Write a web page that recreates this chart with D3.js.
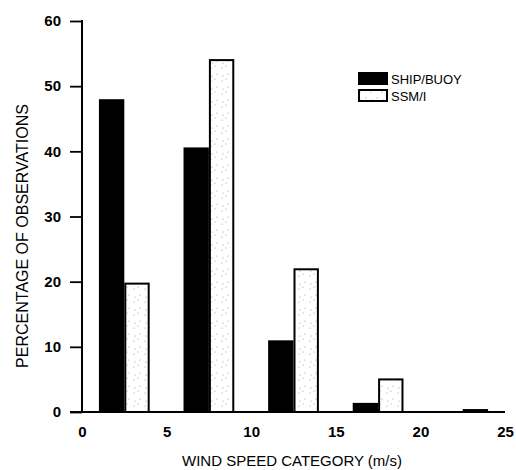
<!DOCTYPE html>
<html>
<head>
<meta charset="utf-8">
<script src="https://cdn.jsdelivr.net/npm/d3@7/dist/d3.min.js"></script>
<style>
  body { margin: 0; background: #fff; }
  svg { display: block; }
  text { font-family: Arial, "Liberation Sans", Helvetica, sans-serif; fill: #000; }
</style>
</head>
<body>
<svg id="chart"></svg>
<script>
// wind speed bins (m/s), bars sit in the middle of each bin
var binCenters = [2.5, 7.5, 12.5, 17.5, 22.5]
var shipBuoy = [48, 40.6, 11, 1.4, 0.1]
var ssmi = [19.7, 54, 21.9, 5, 0.3]
var seriesNames = ["SHIP/BUOY", "SSM/I"]
var xTicks = [0, 5, 10, 15, 20, 25]
var yTicks = [0, 10, 20, 30, 40, 50, 60]

var width = 516, height = 470
var barW = 1.5

var svg = d3.select("#chart")
    .attr("width", width)
    .attr("height", height)

var x = d3.scaleLinear().domain([0, 25]).range([82, 505])
var y = d3.scaleLinear().domain([0, 60]).range([412, 21])

// speckled fill for the SSM/I bars
var defs = svg.append("defs")
var pat = defs.append("pattern")
    .attr("id", "speckle")
    .attr("patternUnits", "userSpaceOnUse")
    .attr("width", 11).attr("height", 13)
pat.append("rect").attr("width", 11).attr("height", 13).attr("fill", "#fff")
pat.selectAll("circle")
    .data([[2, 3], [8, 9], [6, 1], [3, 11]])
    .enter().append("circle")
    .attr("cx", d => d[0]).attr("cy", d => d[1])
    .attr("r", 0.6).attr("fill", "#999")

var rows = binCenters.map((c, i) => ({ c: c, ship: shipBuoy[i], ssm: ssmi[i] }))

// SHIP/BUOY bars, solid black, left half of the pair
svg.selectAll("rect.ship")
    .data(rows)
    .enter().append("rect")
    .attr("class", "ship")
    .attr("x", d => x(d.c - barW))
    .attr("width", d => x(d.c) - x(d.c - barW))
    .attr("y", d => y(d.ship))
    .attr("height", d => y(0) - y(d.ship))
    .attr("fill", "#000")

// SSM/I bars, outlined, right half
svg.selectAll("rect.ssm")
    .data(rows)
    .enter().append("rect")
    .attr("class", "ssm")
    .attr("x", d => x(d.c) + 1)
    .attr("width", d => x(d.c + barW) - x(d.c) - 2)
    .attr("y", d => y(d.ssm))
    .attr("height", d => y(0) - y(d.ssm))
    .attr("fill", "url(#speckle)")
    .attr("stroke", "#000")
    .attr("stroke-width", 2)

// axes
var yAxis = d3.axisLeft(y).tickValues(yTicks).tickSize(12).tickPadding(9).tickFormat(d3.format("d"))
var gy = svg.append("g").attr("transform", "translate(82,0)").call(yAxis)
gy.select(".domain").remove()
gy.selectAll("line").attr("stroke-width", 1.8)
gy.selectAll("text").style("font-size", "15px").style("font-weight", "bold")

svg.append("line")
    .attr("x1", 82).attr("x2", 82)
    .attr("y1", y(60) - 1).attr("y2", y(0))
    .attr("stroke", "#000").attr("stroke-width", 2)

var xAxis = d3.axisBottom(x).tickValues(xTicks).tickSize(0).tickPadding(14)
var gx = svg.append("g").attr("transform", "translate(0," + y(0) + ")").call(xAxis)
gx.select(".domain").remove()
gx.selectAll("text").style("font-size", "15px").style("font-weight", "bold")

svg.append("line")
    .attr("x1", 70).attr("x2", 505)
    .attr("y1", y(0)).attr("y2", y(0))
    .attr("stroke", "#000").attr("stroke-width", 2)

// titles
svg.append("text")
    .attr("x", 292).attr("y", 466)
    .attr("text-anchor", "middle")
    .style("font-size", "15px")
    .text("WIND SPEED CATEGORY (m/s)")

svg.append("text")
    .attr("transform", "translate(28,236) rotate(-90)")
    .attr("text-anchor", "middle")
    .style("font-size", "16px")
    .text("PERCENTAGE OF OBSERVATIONS")

// legend
var legend = svg.selectAll("g.legend")
    .data(seriesNames)
    .enter().append("g")
    .attr("class", "legend")
    .attr("transform", (d, i) => "translate(358," + (72 + i * 17) + ")")

legend.append("rect")
    .attr("width", 30).attr("height", 13)
    .attr("fill", (d, i) => i == 0 ? "#000" : "url(#speckle)")
    .attr("stroke", "#000")
    .attr("stroke-width", (d, i) => i == 0 ? 0 : 2)
    .attr("x", (d, i) => i == 0 ? 0 : 1)
    .attr("y", (d, i) => i == 0 ? 0 : 1)
    .attr("width", (d, i) => i == 0 ? 30 : 28)
    .attr("height", (d, i) => i == 0 ? 13 : 11)

legend.append("text")
    .attr("x", 33).attr("y", 12)
    .style("font-size", "13px")
    .text(d => d)
</script>
</body>
</html>
